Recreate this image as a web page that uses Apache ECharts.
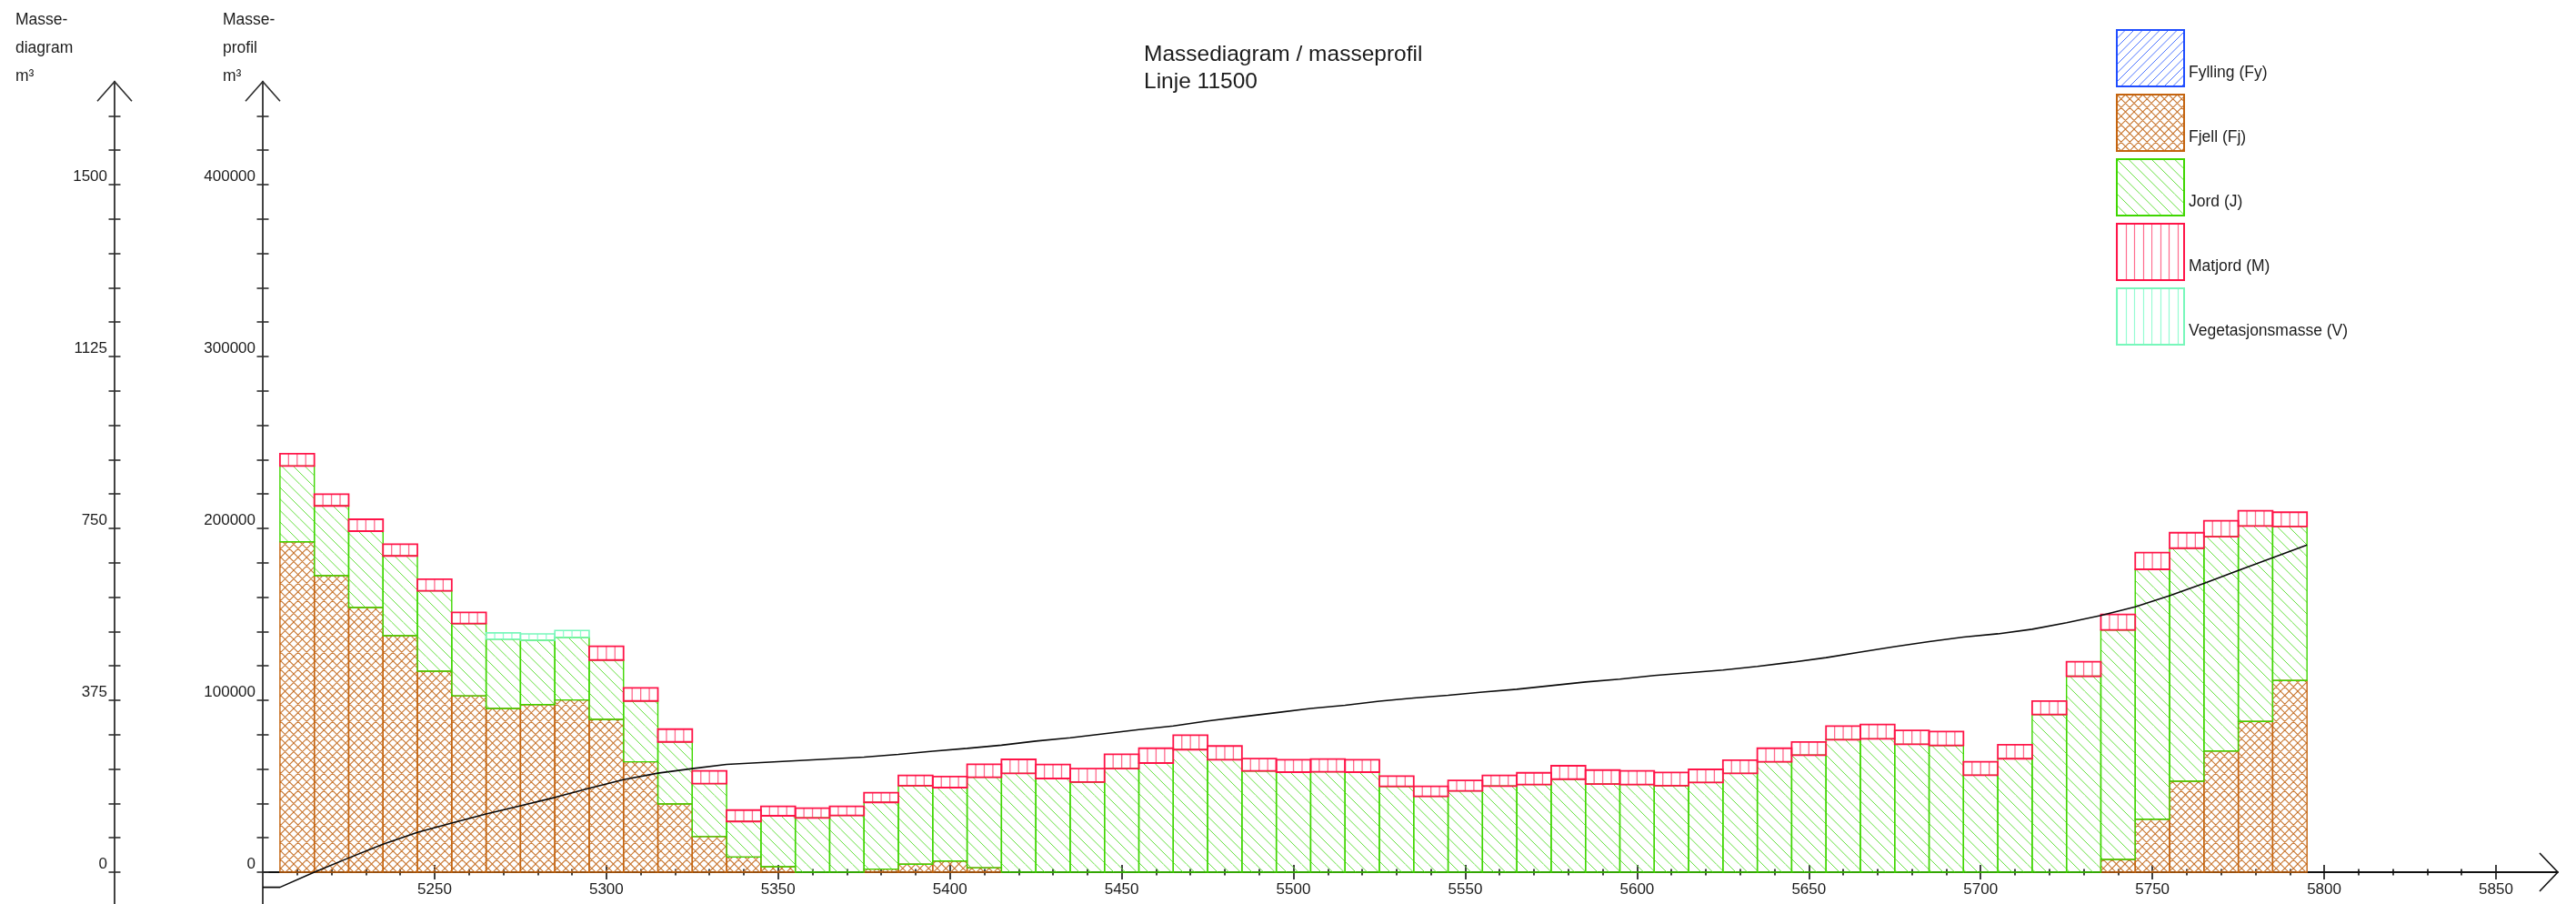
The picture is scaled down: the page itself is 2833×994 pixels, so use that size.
<!DOCTYPE html>
<html>
<head>
<meta charset="utf-8">
<title>Massediagram / masseprofil – Linje 11500</title>
<script src="https://cdn.jsdelivr.net/npm/echarts@6/dist/echarts.min.js"></script>
<style>
  html, body { margin: 0; padding: 0; background: #ffffff; }
  #chart { width: 2833px; height: 994px; }
</style>
</head>
<body>
<div id="chart"></div>
<script>
// ---- Profile stations (bar centres, m); every bar spans ±5 m ----
const stations = [
  5210, 5220, 5230, 5240, 5250, 5260, 5270, 5280, 5290, 5300,
  5310, 5320, 5330, 5340, 5350, 5360, 5370, 5380, 5390, 5400,
  5410, 5420, 5430, 5440, 5450, 5460, 5470, 5480, 5490, 5500,
  5510, 5520, 5530, 5540, 5550, 5560, 5570, 5580, 5590, 5600,
  5610, 5620, 5630, 5640, 5650, 5660, 5670, 5680, 5690, 5700,
  5710, 5720, 5730, 5740, 5750, 5760, 5770, 5780, 5790
];

// ---- Volumes per station (m³), stacked bottom to top: Fjell, Jord, Matjord / Vegetasjonsmasse ----
const fylling = [];
const fjell = [
  192200, 172500, 154000, 137600, 116900, 102600, 95200, 97500, 100200, 88900,
  64200, 39700, 20700, 8800, 3200, 0, 0, 1800, 4600, 6500,
  2600, 0, 0, 0, 0, 0, 0, 0, 0, 0,
  0, 0, 0, 0, 0, 0, 0, 0, 0, 0,
  0, 0, 0, 0, 0, 0, 0, 0, 0, 0,
  0, 0, 0, 7400, 30800, 52900, 70500, 87700, 111500
];
const jord = [
  44100, 40600, 44400, 46400, 46800, 42000, 40400, 37400, 36300, 34500,
  35400, 36100, 30800, 20700, 29600, 31600, 33000, 38800, 45700, 42700,
  52600, 57500, 54500, 52400, 60300, 63500, 71300, 65400, 58900, 58200,
  58400, 58200, 49900, 44100, 47300, 50100, 51000, 54100, 51300, 51000,
  50300, 52200, 57500, 64200, 68100, 77100, 77600, 74400, 73700, 56400,
  66000, 91700, 114000, 133500, 145400, 135600, 124700, 113700, 89600
];
const matjord = [
  7100, 6800, 6900, 6800, 6700, 6500, 0, 0, 0, 8000,
  7600, 7400, 7400, 6600, 5500, 5600, 5300, 5600, 6000, 6400,
  7600, 8100, 8100, 7900, 8300, 8600, 8400, 8000, 7200, 7200,
  7400, 7200, 6000, 5800, 6100, 6200, 6800, 7800, 8100, 7900,
  7700, 7600, 7600, 7900, 7600, 7900, 8300, 8100, 8100, 7800,
  8100, 7800, 8400, 9000, 9700, 9000, 9200, 8800, 8300
];
const vegetasjon = [
  0, 0, 0, 0, 0, 0, 3600, 3700, 4100, 0,
  0, 0, 0, 0, 0, 0, 0, 0, 0, 0,
  0, 0, 0, 0, 0, 0, 0, 0, 0, 0,
  0, 0, 0, 0, 0, 0, 0, 0, 0, 0,
  0, 0, 0, 0, 0, 0, 0, 0, 0, 0,
  0, 0, 0, 0, 0, 0, 0, 0, 0
];

// ---- Mass diagram (accumulated m³) at bar edges ----
const massStations = [
  5200, 5205, 5215, 5225, 5235, 5245, 5255, 5265, 5275, 5285, 5295,
  5305, 5315, 5325, 5335, 5345, 5355, 5365, 5375, 5385, 5395,
  5405, 5415, 5425, 5435, 5445, 5455, 5465, 5475, 5485, 5495,
  5505, 5515, 5525, 5535, 5545, 5555, 5565, 5575, 5585, 5595,
  5605, 5615, 5625, 5635, 5645, 5655, 5665, 5675, 5685, 5695,
  5705, 5715, 5725, 5735, 5745, 5755, 5765, 5775, 5785, 5795
];
const massValues = [
  -33, -33, 0, 31, 61, 87, 107, 127, 145, 163, 183,
  202, 216, 226, 235, 239, 243, 247, 251, 257, 264,
  270, 277, 286, 293, 302, 311, 319, 330, 339, 348,
  357, 364, 373, 380, 386, 393, 399, 407, 415, 421,
  429, 435, 441, 449, 458, 468, 480, 492, 503, 513,
  520, 530, 544, 560, 579, 603, 630, 658, 686, 714
];

// ---- Axis ticks and labels ----
const xLabels = [5250, 5300, 5350, 5400, 5450, 5500, 5550, 5600, 5650, 5700, 5750, 5800, 5850];
const profileLabels = [0, 100000, 200000, 300000, 400000];
const diagramLabels = [0, 375, 750, 1125, 1500];
const xMinorTicks = [];
for (let s = 5210; s < 5850; s += 10) if (s % 50 !== 0) xMinorTicks.push(s);
const profileTicks = [];
for (let v = 0; v <= 440000; v += 20000) profileTicks.push(v);
const diagramTicks = [];
for (let v = 0; v <= 1650; v += 75) diagramTicks.push(v);

// ---- Layout ----
const CHART_H = 994;
const X_MIN = 5200, X_MAX = 5868;
const PROFILE_MIN = -20000, PROFILE_MAX = 460000;
const DIAGRAM_MIN = -75, DIAGRAM_MAX = 1725;
const HALF_BAY = 5;
const DIAGRAM_OFFSET = 163;
const GRID = { left: 289, right: 20, top: 89.6, bottom: -2.8 };
// The x axis sits on zero; its labels are measured from the grid's lower edge
const ZERO_TO_BOTTOM = (0 - PROFILE_MIN) / (PROFILE_MAX - PROFILE_MIN) * (CHART_H - GRID.top - GRID.bottom);
const X_LABEL_GAP = 11;

const NUM_FONT = "'Liberation Sans', Arial, sans-serif";
const TXT_FONT = "'Liberation Sans', Arial, sans-serif";
const AXIS_COLOR = '#2e2e2e';
const TEXT_COLOR = '#1c1c1c';

const COLORS = {
  fylling: { edge: '#1f4dff', hatch: '#4a72ff' },
  fjell:   { edge: '#c4640f', hatch: '#c97934' },
  jord:    { edge: '#3fd600', hatch: '#66df40' },
  matjord: { edge: '#ff1448', hatch: '#ff6c8e' },
  veg:     { edge: '#78f7bb', hatch: '#96fcd2' }
};

// Hatch tiles (38 px square, repeating)
function hatch(kind, color, lines, width) {
  const N = 38;
  const cv = document.createElement('canvas');
  cv.width = N; cv.height = N;
  const g = cv.getContext('2d');
  g.strokeStyle = color;
  g.lineWidth = width;
  const p = N / lines;
  g.beginPath();
  if (kind === 'vertical') {
    for (let j = 0; j < lines; j++) {
      const x = Math.round(j * p) + 0.5;
      g.moveTo(x, 0); g.lineTo(x, N);
    }
  } else {
    for (let j = -lines; j <= lines; j++) {
      const x0 = j * p;
      if (kind === 'back' || kind === 'cross') { g.moveTo(x0, 0); g.lineTo(x0 + N, N); }
      if (kind === 'fwd' || kind === 'cross') { g.moveTo(x0, N); g.lineTo(x0 + N, 0); }
    }
  }
  g.stroke();
  return { image: cv, repeat: 'repeat' };
}

const PAT = {
  fylling: hatch('fwd', COLORS.fylling.hatch, 4, 1),
  fjell: hatch('cross', COLORS.fjell.hatch, 4, 1.1),
  jord: hatch('back', COLORS.jord.hatch, 3, 1),
  matjord: hatch('vertical', COLORS.matjord.hatch, 4, 1.2),
  veg: hatch('vertical', COLORS.veg.hatch, 4, 1.2)
};

// Stack the layers: each item is [station, base, top]
function stackLayer(values, below) {
  return stations.map((s, i) => {
    const base = below.reduce((acc, arr) => acc + (arr[i] || 0), 0);
    return [s, base, base + (values[i] || 0)];
  });
}

// Diagonal hatch: pattern-filled rectangle
function slabRenderer(fill, edge, width) {
  return function (params, api) {
    const x = api.value(0), lo = api.value(1), hi = api.value(2);
    if (!(hi > lo)) return null;
    const a = api.coord([x - HALF_BAY, hi]);
    const b = api.coord([x + HALF_BAY, lo]);
    return {
      type: 'rect',
      shape: { x: a[0], y: a[1], width: b[0] - a[0], height: b[1] - a[1] },
      style: { fill: fill, stroke: edge, lineWidth: width }
    };
  };
}

// Vertical hatch: four cells per bar
function cellRenderer(hatchColor, edge, width) {
  return function (params, api) {
    const x = api.value(0), lo = api.value(1), hi = api.value(2);
    if (!(hi > lo)) return null;
    const a = api.coord([x - HALF_BAY, hi]);
    const b = api.coord([x + HALF_BAY, lo]);
    const w = b[0] - a[0];
    const children = [];
    for (let k = 1; k < 4; k++) {
      const cx = a[0] + w * k / 4;
      children.push({ type: 'line', shape: { x1: cx, y1: a[1], x2: cx, y2: b[1] },
        style: { stroke: hatchColor, lineWidth: 1.3 } });
    }
    children.push({ type: 'rect', shape: { x: a[0], y: a[1], width: w, height: b[1] - a[1] },
      style: { fill: 'none', stroke: edge, lineWidth: width } });
    return { type: 'group', children: children };
  };
}

function layerSeries(name, data, key, renderItem, width) {
  return {
    type: 'custom', name: name, xAxisIndex: 0, yAxisIndex: 0,
    coordinateSystem: 'cartesian2d',
    encode: { x: 0, y: [1, 2] },
    itemStyle: { color: PAT[key], borderColor: COLORS[key].edge, borderWidth: width },
    renderItem: renderItem, data: data, silent: true
  };
}

const numLabel = (v) => String(v);

function xAxisDef(ticks, len, inside, withLabels) {
  return {
    type: 'value', min: X_MIN, max: X_MAX, position: 'bottom', gridIndex: 0,
    axisLine: { show: true, onZero: true, onZeroAxisIndex: 0,
      lineStyle: { color: '#111', width: withLabels ? 1.8 : 0, opacity: withLabels ? 1 : 0 } },
    axisTick: { show: true, customValues: ticks, length: len, inside: inside,
      lineStyle: { color: '#111', width: 1.6 } },
    axisLabel: withLabels ? {
      show: true, customValues: xLabels, margin: X_LABEL_GAP - ZERO_TO_BOTTOM, formatter: numLabel,
      fontFamily: NUM_FONT, fontSize: 17, color: TEXT_COLOR, hideOverlap: false
    } : { show: false },
    splitLine: { show: false }
  };
}

function yAxisDef(min, max, offset, ticks, labels, inside) {
  return {
    type: 'value', min: min, max: max, position: 'left', offset: offset, gridIndex: 0,
    axisLine: { show: true, onZero: false,
      lineStyle: { color: AXIS_COLOR, width: labels ? 1.8 : 0, opacity: labels ? 1 : 0 } },
    axisTick: { show: true, customValues: ticks, length: 6.5, inside: inside,
      lineStyle: { color: AXIS_COLOR, width: 1.6 } },
    axisLabel: labels ? {
      show: true, customValues: labels, margin: 8, formatter: numLabel,
      verticalAlign: 'bottom', fontFamily: NUM_FONT, fontSize: 17, color: TEXT_COLOR
    } : { show: false },
    splitLine: { show: false }
  };
}

const chart = echarts.init(document.getElementById('chart'), null, { renderer: 'canvas' });

chart.setOption({
  animation: false,
  backgroundColor: '#ffffff',
  title: {
    text: 'Massediagram / masseprofil\nLinje 11500',
    left: 1258, top: 45, padding: 0,
    textStyle: { fontFamily: TXT_FONT, fontSize: 24.5, fontWeight: 'normal', color: TEXT_COLOR, lineHeight: 30 }
  },
  legend: {
    orient: 'vertical', left: 2327, top: 31, padding: 0,
    itemWidth: 74, itemHeight: 62, itemGap: 5, icon: 'rect', selectedMode: false,
    data: ['Fylling (Fy)', 'Fjell (Fj)', 'Jord (J)', 'Matjord (M)', 'Vegetasjonsmasse (V)'],
    formatter: (name) => '\n' + name,
    textStyle: { fontFamily: TXT_FONT, fontSize: 17.5, color: TEXT_COLOR, lineHeight: 33 }
  },
  grid: { left: GRID.left, right: GRID.right, top: GRID.top, bottom: GRID.bottom,
    containLabel: false, outerBoundsMode: 'none' },
  xAxis: [
    xAxisDef(xLabels, 8, false, true),
    xAxisDef(xLabels, 8, true, false),
    xAxisDef(xMinorTicks, 3.5, false, false),
    xAxisDef(xMinorTicks, 3.5, true, false)
  ],
  yAxis: [
    yAxisDef(PROFILE_MIN, PROFILE_MAX, 0, profileTicks, profileLabels, false),
    yAxisDef(PROFILE_MIN, PROFILE_MAX, 0, profileTicks, null, true),
    yAxisDef(DIAGRAM_MIN, DIAGRAM_MAX, DIAGRAM_OFFSET, diagramTicks, diagramLabels, false),
    yAxisDef(DIAGRAM_MIN, DIAGRAM_MAX, DIAGRAM_OFFSET, diagramTicks, null, true)
  ],
  series: [
    layerSeries('Fjell (Fj)', stackLayer(fjell, []), 'fjell',
      slabRenderer(PAT.fjell, COLORS.fjell.edge, 1.4), 1.4),
    layerSeries('Jord (J)', stackLayer(jord, [fjell]), 'jord',
      slabRenderer(PAT.jord, COLORS.jord.edge, 1.4), 1.4),
    layerSeries('Matjord (M)', stackLayer(matjord, [fjell, jord]), 'matjord',
      cellRenderer(COLORS.matjord.hatch, COLORS.matjord.edge, 1.8), 1.8),
    layerSeries('Vegetasjonsmasse (V)', stackLayer(vegetasjon, [fjell, jord]), 'veg',
      cellRenderer(COLORS.veg.hatch, COLORS.veg.edge, 1.6), 1.6),
    layerSeries('Fylling (Fy)', fylling, 'fylling',
      slabRenderer(PAT.fylling, COLORS.fylling.edge, 1.4), 1.4),
    {
      type: 'line', name: 'Massediagram', xAxisIndex: 0, yAxisIndex: 2,
      data: massStations.map((s, i) => [s, massValues[i]]),
      showSymbol: false, symbol: 'none', smooth: false, silent: true, z: 5,
      lineStyle: { color: '#0a0a0a', width: 1.6 }
    }
  ]
});

// Axis arrows and axis captions, placed from the axes' own pixel positions
const gx = chart.convertToPixel({ xAxisIndex: 0 }, X_MIN);
const tipX = chart.convertToPixel({ xAxisIndex: 0 }, X_MAX);
const tipY = chart.convertToPixel({ yAxisIndex: 0 }, PROFILE_MAX);
const zeroY = chart.convertToPixel({ yAxisIndex: 0 }, 0);
const dx = gx - DIAGRAM_OFFSET;

function vArrow(x) {
  return { type: 'polyline', silent: true, z: 10,
    shape: { points: [[x - 19, tipY + 21.6], [x, tipY], [x + 19, tipY + 21.6]] },
    style: { stroke: AXIS_COLOR, lineWidth: 1.6, fill: 'none' } };
}
function caption(x, text) {
  return { type: 'text', x: x, y: 6.7, silent: true, z: 10,
    style: { text: text, font: '17.5px ' + TXT_FONT, fill: TEXT_COLOR,
      lineHeight: 31, verticalAlign: 'top', align: 'left' } };
}

chart.setOption({
  graphic: [
    vArrow(dx), vArrow(gx),
    { type: 'polyline', silent: true, z: 10,
      shape: { points: [[tipX - 20, zeroY - 21], [tipX, zeroY], [tipX - 20, zeroY + 21]] },
      style: { stroke: '#111', lineWidth: 1.6, fill: 'none' } },
    caption(dx - 109, 'Masse-\ndiagram\nm³'),
    caption(gx - 44, 'Masse-\nprofil\nm³')
  ]
});
</script>
</body>
</html>
